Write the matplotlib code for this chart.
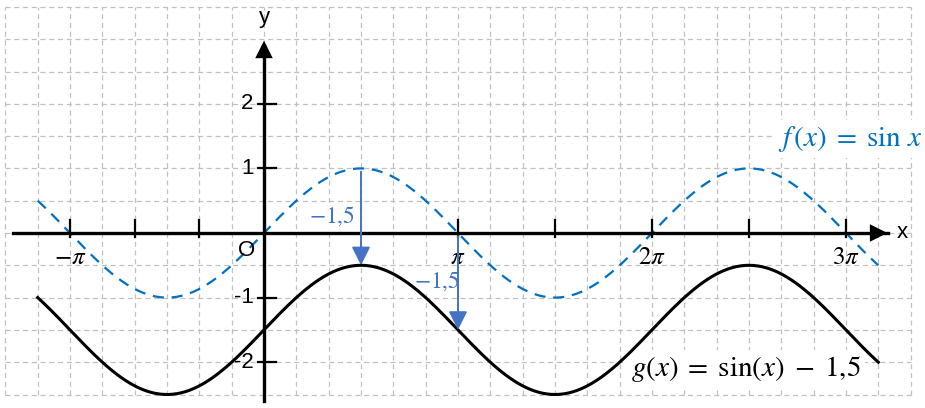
import numpy as np
import matplotlib.pyplot as plt
from matplotlib.patches import FancyArrowPatch

plt.rcParams['mathtext.fontset'] = 'stix'

pi = np.pi
# Kurvenbereich
x_start, x_end = -7*pi/6, 19*pi/6
shift = -1.5

xticks = [-pi, -2*pi/3, -pi/3, pi, 3*pi/2, 2*pi, 5*pi/2, 3*pi]
xlabels = [(-pi, r'$-\pi$'), (pi, r'$\pi$'), (2*pi, r'$2\pi$'), (3*pi, r'$3\pi$')]
yticks = [-2, -1, 1, 2]
ylabels = ['-2', '-1', '1', '2']
pfeile_x = [pi/2, pi]

blau = '#0070C0'
pfeil_blau = '#4472C4'

fig = plt.figure(figsize=(9.25, 4.08), dpi=100)
ax = fig.add_axes([0, 0, 1, 1])
ax.set_xlim(-264/61.75, 661/61.75)
ax.set_ylim(-175/64.6, 233/64.6)
ax.axis('off')

# Gitter
for gx in np.arange(-8, 21)*pi/6:
    ax.plot([gx, gx], [-2.5, 3.5], color='#C0C0C0', lw=0.9, ls=(0, (4, 3)), zorder=0)
for gy in np.arange(-2.5, 3.51, 0.5):
    ax.plot([-8*pi/6, 20*pi/6], [gy, gy], color='#C0C0C0', lw=0.9, ls=(0, (4, 3)), zorder=0)

# Achsen
ax.plot([-4.06, 10.1], [0, 0], color='black', lw=2.4, zorder=3)
ax.add_patch(FancyArrowPatch((10.0, 0), (10.14, 0), arrowstyle='-|>,head_length=0.9,head_width=0.45',
                             mutation_scale=14, color='black', lw=0, zorder=4))
ax.plot([0, 0], [-2.6, 2.9], color='black', lw=2.4, zorder=3)
ax.add_patch(FancyArrowPatch((0, 2.85), (0, 3.02), arrowstyle='-|>,head_length=0.9,head_width=0.45',
                             mutation_scale=14, color='black', lw=0, zorder=4))
ax.text(10.33, 0, 'x', fontsize=16, va='center', ha='center', family='Liberation Sans')
ax.text(0, 3.33, 'y', fontsize=16, va='center', ha='center', family='Liberation Sans')

for t in xticks:
    ax.plot([t, t], [-0.06, 0.2], color='black', lw=1.6, zorder=3)
for t in yticks:
    ax.plot([-0.09, 0.2], [t, t], color='black', lw=1.6, zorder=3)
for t, lab in zip(yticks, ylabels):
    ax.text(-0.17, t, lab, fontsize=16, ha='right', va='center', family='Liberation Sans')
for t, lab in xlabels:
    ax.text(t, -0.37, lab, fontsize=18, ha='center', va='center')
ax.text(-0.28, -0.27, 'O', fontsize=16, ha='center', va='center', family='Liberation Sans')

# Kurven
xs = np.linspace(x_start, x_end, 600)
ax.plot(xs, np.sin(xs), color=blau, lw=1.6, ls=(0, (5, 3.5)), zorder=2)
ax.plot(xs, np.sin(xs) + shift, color='black', lw=2.2, zorder=4.5)

# Verschiebungspfeile
for px in pfeile_x:
    y0 = np.sin(px)
    ax.annotate('', xy=(px, y0 + shift), xytext=(px, y0 - 0.05),
                arrowprops=dict(arrowstyle='-|>,head_length=0.8,head_width=0.4', color=pfeil_blau,
                                lw=1.4, mutation_scale=14, shrinkA=0, shrinkB=0), zorder=5)
ax.text(1.1, 0.26, r'$-1{,}5$', fontsize=17, color=pfeil_blau, ha='center', va='center',
        bbox=dict(facecolor='white', edgecolor='none', pad=0.5), zorder=4)
ax.text(2.8, -0.74, r'$-1{,}5$', fontsize=17, color=pfeil_blau, ha='center', va='center',
        bbox=dict(facecolor='white', edgecolor='none', pad=0.5), zorder=4)

ax.text(9.5, 1.45, r'$f\,(x)\;=\;\sin\,x$', fontsize=21, color=blau, ha='center', va='center',
        bbox=dict(facecolor='white', edgecolor='none', pad=3), zorder=4)
ax.text(7.8, -2.11, r'$g(x)\;=\;\sin(x)\;-\;1{,}5$', fontsize=21, color='black', ha='center', va='center',
        bbox=dict(facecolor='white', edgecolor='none', pad=3), zorder=4)

fig.savefig('out.png', dpi=100)
